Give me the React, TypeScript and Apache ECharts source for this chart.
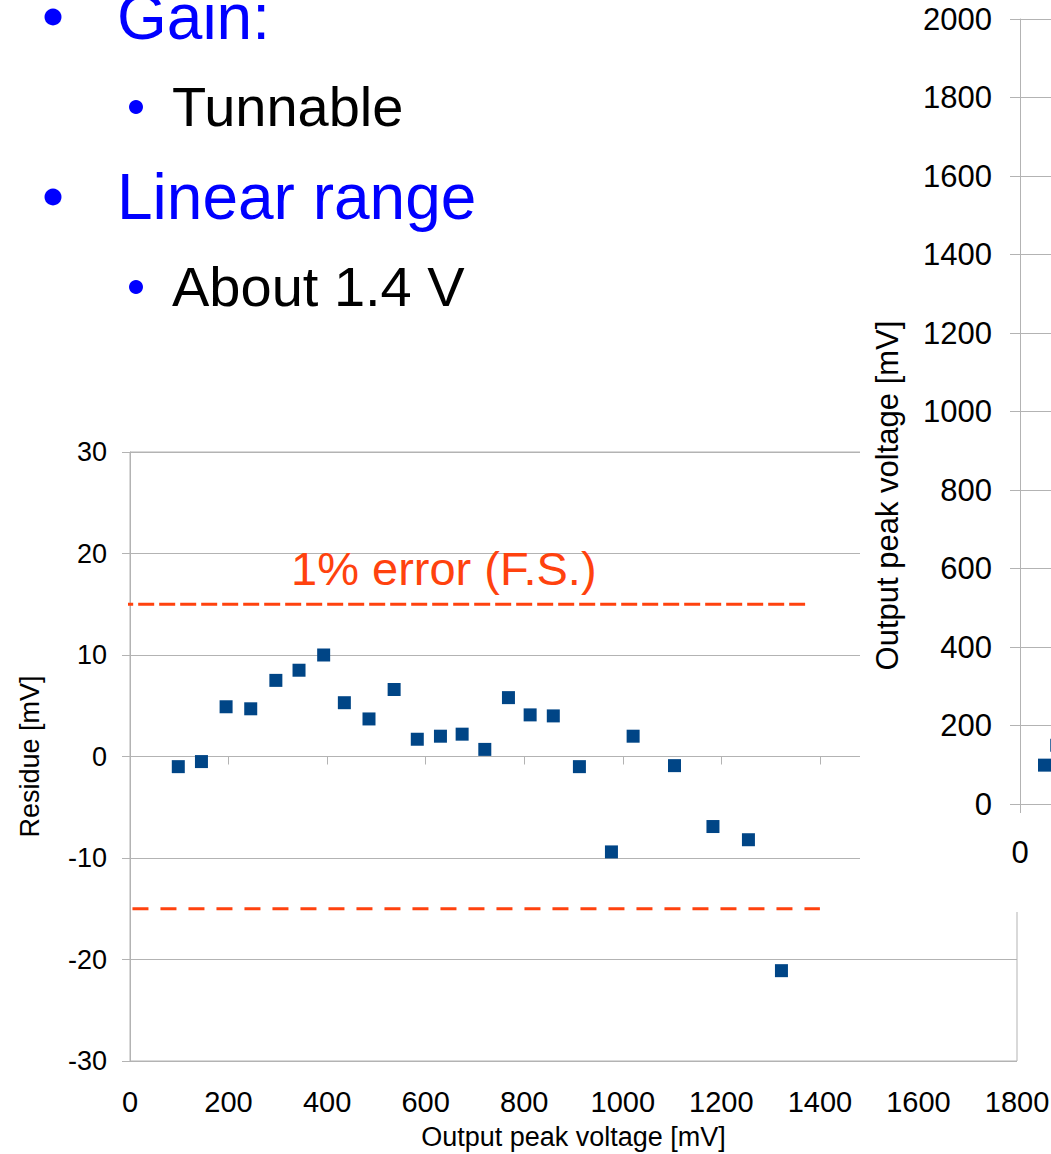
import React, { useEffect, useRef } from "react";
import * as echarts from "echarts";

// Residue chart data (output peak voltage [mV] vs residue [mV])
const residueX = [98, 145, 195, 245, 296, 343, 393, 435, 485, 536, 583, 630, 674, 720, 768, 812, 859, 912, 977, 1021, 1105, 1183, 1255, 1322];
const residueY = [-1.0, -0.5, 4.9, 4.7, 7.5, 8.5, 10.0, 5.3, 3.7, 6.6, 1.7, 2.0, 2.2, 0.7, 5.8, 4.1, 4.0, -1.0, -9.4, 2.0, -0.9, -6.9, -8.2, -21.1];

// 1% error (F.S.) limits
const errorUpperX = [-26, 1370];
const errorUpperY = 15;
const errorLowerX = [5, 1400];
const errorLowerY = -15;

// Axis ticks
const residueXTicks = [0, 200, 400, 600, 800, 1000, 1200, 1400, 1600, 1800];
const residueYTicks = [-30, -20, -10, 0, 10, 20, 30];
const outputYTicks = [0, 200, 400, 600, 800, 1000, 1200, 1400, 1600, 1800, 2000];
const inputXTicks = [0, 100];

// Partially visible linearity chart (right)
const linearX = [10, 15];
const linearY = [99, 150];

// Slide bullet text
const bulletLevel1 = ["Gain:", "Linear range"];
const bulletLevel2 = ["Tunnable", "About 1.4 V"];

const RED = "#ff420e";
const BLUE = "#004586";
const GRID = "#b3b3b3";
const FONT = "'Liberation Sans', Arial, sans-serif";
const TEXT_BLUE = "#0000ff";
const plain = (v: number) => String(v);

export default function App() {
  const ref = useRef<HTMLDivElement>(null);

  useEffect(() => {
    if (!ref.current) return;
    const chart = echarts.init(ref.current, undefined, { renderer: "svg" });

    const l1Y = [17, 197];
    const l2Y = [106, 286];

    const graphics: any[] = [
      {
        type: "rect",
        z: 10,
        silent: true,
        shape: { x: 860, y: 0, width: 191, height: 912 },
        style: { fill: "#ffffff" },
      },
    ];
    bulletLevel1.forEach((t, i) => {
      graphics.push({ type: "circle", z: 30, shape: { cx: 53, cy: l1Y[i], r: 8.5 }, style: { fill: TEXT_BLUE } });
      graphics.push({
        type: "text", z: 30, x: 117, y: l1Y[i],
        style: { text: t, fill: TEXT_BLUE, fontSize: 64, fontFamily: FONT, align: "left", verticalAlign: "middle" },
      });
    });
    bulletLevel2.forEach((t, i) => {
      graphics.push({ type: "circle", z: 30, shape: { cx: 136, cy: l2Y[i] + 1, r: 7 }, style: { fill: TEXT_BLUE } });
      graphics.push({
        type: "text", z: 30, x: 172, y: l2Y[i],
        style: { text: t, fill: "#000000", fontSize: 56, fontFamily: FONT, align: "left", verticalAlign: "middle" },
      });
    });
    graphics.push({
      type: "text", z: 30, x: 291, y: 568,
      style: { text: "1% error (F.S.)", fill: RED, fontSize: 47, fontFamily: FONT, align: "left", verticalAlign: "middle" },
    });

    const option: any = {
      animation: false,
      textStyle: { fontFamily: FONT },
      grid: [
        { left: 130, top: 452, width: 887, height: 609, show: true, borderColor: GRID, borderWidth: 1, backgroundColor: "transparent", containLabel: false, outerBoundsMode: "none" },
        { left: 1020, top: 19, width: 245, height: 785, containLabel: false, outerBoundsMode: "none" },
      ],
      xAxis: [
        {
          gridIndex: 0, type: "value",
          min: residueXTicks[0], max: residueXTicks[residueXTicks.length - 1], interval: residueXTicks[1] - residueXTicks[0],
          position: "bottom",
          axisLine: { show: false, onZero: false },
          axisTick: { show: false },
          splitLine: { show: false },
          axisLabel: { fontSize: 29, color: "#000", margin: 26, fontFamily: FONT, formatter: plain },
          name: "Output peak voltage [mV]", nameLocation: "middle", nameGap: 62,
          nameTextStyle: { fontSize: 27, color: "#000", fontFamily: FONT },
        },
        {
          gridIndex: 0, type: "value",
          min: residueXTicks[0], max: residueXTicks[residueXTicks.length - 1], interval: residueXTicks[1] - residueXTicks[0],
          position: "top",
          axisLine: { show: true, onZero: true, lineStyle: { color: GRID, width: 1 } },
          axisTick: { show: true, inside: true, length: 8, lineStyle: { color: GRID } },
          axisLabel: { show: false },
          splitLine: { show: false },
        },
        {
          gridIndex: 1, type: "value", z: 20,
          min: inputXTicks[0], max: inputXTicks[inputXTicks.length - 1], interval: inputXTicks[1] - inputXTicks[0],
          axisLine: { show: true, onZero: false, lineStyle: { color: GRID } },
          axisTick: { show: true, length: 9, lineStyle: { color: GRID } },
          axisLabel: { fontSize: 31, color: "#000", margin: 33, fontFamily: FONT, formatter: plain, showMaxLabel: false },
          splitLine: { show: false },
        },
      ],
      yAxis: [
        {
          gridIndex: 0, type: "value",
          min: residueYTicks[0], max: residueYTicks[residueYTicks.length - 1], interval: residueYTicks[1] - residueYTicks[0],
          axisLine: { show: true, onZero: false, lineStyle: { color: GRID } },
          axisTick: { show: true, length: 8, lineStyle: { color: GRID } },
          axisLabel: { fontSize: 27, color: "#000", margin: 23, fontFamily: FONT, formatter: plain },
          splitLine: { show: true, lineStyle: { color: GRID, width: 1 } },
          name: "Residue [mV]", nameLocation: "middle", nameGap: 87, nameRotate: 90,
          nameTextStyle: { fontSize: 27, color: "#000", fontFamily: FONT },
        },
        {
          gridIndex: 1, type: "value", z: 20,
          min: outputYTicks[0], max: outputYTicks[outputYTicks.length - 1], interval: outputYTicks[1] - outputYTicks[0],
          axisLine: { show: true, onZero: false, lineStyle: { color: GRID } },
          axisTick: { show: true, length: 10, lineStyle: { color: GRID } },
          axisLabel: { fontSize: 31, color: "#000", margin: 28, fontFamily: FONT, formatter: plain },
          splitLine: { show: true, lineStyle: { color: GRID, width: 1 } },
          name: "Output peak voltage [mV]", nameLocation: "middle", nameGap: 117, nameRotate: 90,
          nameTextStyle: { fontSize: 31, color: "#000", fontFamily: FONT, padding: [0, 168, 0, 0] },
        },
      ],
      series: [
        {
          type: "line", xAxisIndex: 0, yAxisIndex: 0, silent: true, clip: false, z: 2,
          symbol: "none",
          data: errorUpperX.map((x) => [x, errorUpperY]),
          lineStyle: { color: RED, width: 3, type: [16, 5] },
        },
        {
          type: "line", xAxisIndex: 0, yAxisIndex: 0, silent: true, clip: false, z: 2,
          symbol: "none",
          data: errorLowerX.map((x) => [x, errorLowerY]),
          lineStyle: { color: RED, width: 3, type: [16, 12] },
        },
        {
          type: "scatter", xAxisIndex: 0, yAxisIndex: 0, z: 3,
          symbol: "rect", symbolSize: 13,
          itemStyle: { color: BLUE, opacity: 1 },
          data: residueX.map((x, i) => [x, residueY[i]]),
        },
        {
          type: "scatter", xAxisIndex: 2, yAxisIndex: 1, z: 20,
          symbol: "rect", symbolSize: 13,
          itemStyle: { color: BLUE, opacity: 1 },
          data: linearX.map((x, i) => [x, linearY[i]]),
        },
      ],
      graphic: graphics,
    };

    chart.setOption(option);
    return () => chart.dispose();
  }, []);

  return (
    <div
      ref={ref}
      style={{ position: "absolute", left: 0, top: 0, width: 1051, height: 1154, background: "#fff" }}
    />
  );
}
